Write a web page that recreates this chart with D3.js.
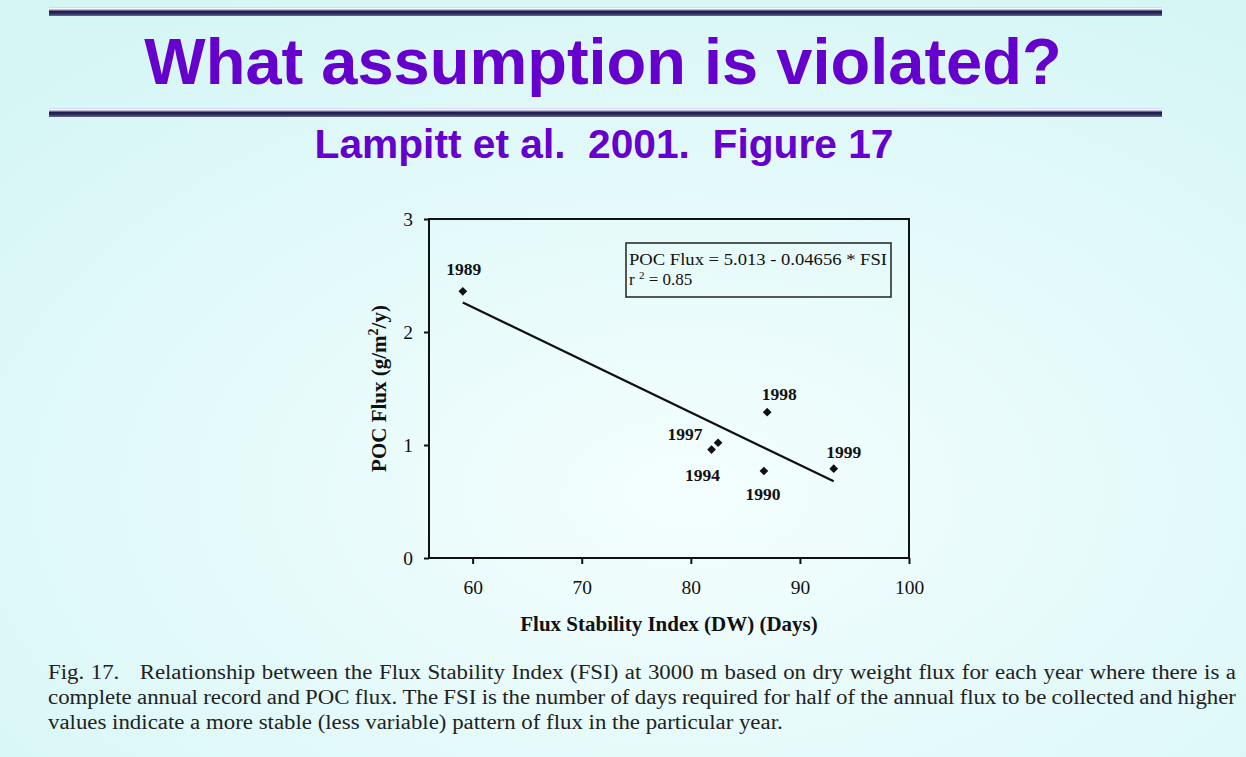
<!DOCTYPE html>
<html>
<head>
<meta charset="utf-8">
<script src="https://cdn.jsdelivr.net/npm/d3@7"></script>
<style>
  body { margin: 0; background: #dcf8f8; }
  svg { display: block; }
</style>
</head>
<body>
<svg id="slide" width="1246" height="757"></svg>
<script>
// data
const years = ["1989", "1990", "1994", "1997", "1998", "1999"];
const fsiValues = [59.1, 86.7, 81.9, 82.5, 87.0, 93.1];
const pocValues = [2.36, 0.77, 0.96, 1.02, 1.29, 0.79];
const xTicks = [60, 70, 80, 90, 100];
const yTicks = [0, 1, 2, 3];
const fitIntercept = 5.013;
const fitSlope = -0.04656;
const fitR2 = "0.85";

const titleText = "What assumption is violated?";
const subtitleText = "Lampitt et al.  2001.  Figure 17";
const captionLines = [
  "Fig. 17. Relationship between the Flux Stability Index (FSI) at 3000 m based on dry weight flux for each year where there is a",
  "complete annual record and POC flux. The FSI is the number of days required for half of the annual flux to be collected and higher",
  "values indicate a more stable (less variable) pattern of flux in the particular year."
];

// where each year label sits relative to its point (px)
const labelOffset = {
  "1989": [1, -16], "1990": [-1, 29], "1994": [-9, 31],
  "1997": [-33, -3], "1998": [12, -12], "1999": [10, -11]
};

const points = years.map((yr, i) => ({ year: yr, fsi: fsiValues[i], poc: pocValues[i] }));

const svg = d3.select("#slide");
const W = 1246, H = 757;
const serif = "'Liberation Serif', 'Times New Roman', serif";
const sans = "'Liberation Sans', Arial, sans-serif";
const purple = "#6600cc";

// background
const defs = svg.append("defs");
const bg = defs.append("radialGradient").attr("id", "bg")
  .attr("cx", "55%").attr("cy", "65%").attr("r", "75%");
bg.append("stop").attr("offset", "0%").attr("stop-color", "#f4fefe");
bg.append("stop").attr("offset", "100%").attr("stop-color", "#d6f6f6");
svg.append("rect").attr("width", W).attr("height", H).attr("fill", "url(#bg)");

const rule = defs.append("linearGradient").attr("id", "rule")
  .attr("x1", 0).attr("y1", 0).attr("x2", 0).attr("y2", 1);
[["0%", "#c8c8ee"], ["18%", "#ffffff"], ["32%", "#9a9ac8"], ["50%", "#1c1c52"],
 ["78%", "#34345f"], ["100%", "#6e6e90"]].forEach(([o, c]) =>
  rule.append("stop").attr("offset", o).attr("stop-color", c));

[7, 108].forEach(y0 => {
  svg.append("rect").attr("x", 49).attr("y", y0).attr("width", 1113).attr("height", 9)
    .attr("fill", "url(#rule)");
});

// title + subtitle
svg.append("text")
  .attr("x", 603).attr("y", 84)
  .attr("text-anchor", "middle")
  .attr("font-family", sans).attr("font-weight", "bold").attr("font-size", 65)
  .attr("fill", purple)
  .text(titleText);

svg.append("text")
  .attr("x", 604).attr("y", 158)
  .attr("text-anchor", "middle")
  .attr("font-family", sans).attr("font-weight", "bold").attr("font-size", 40.7)
  .attr("fill", purple)
  .style("white-space", "pre")
  .text(subtitleText);

// scatter plot
const plot = { left: 429, right: 909, top: 219, bottom: 558 };
const x = d3.scaleLinear().domain([56, 100]).range([plot.left, plot.right]);
const y = d3.scaleLinear().domain([0, 3]).range([plot.bottom, plot.top]);

const chart = svg.append("g");

chart.append("rect")
  .attr("x", plot.left).attr("y", plot.top)
  .attr("width", plot.right - plot.left).attr("height", plot.bottom - plot.top)
  .attr("fill", "none").attr("stroke", "#111").attr("stroke-width", 2);

chart.append("g")
  .attr("transform", `translate(${plot.left},0)`)
  .call(d3.axisLeft(y).tickValues(yTicks).tickSize(5).tickPadding(11).tickFormat(d3.format("d")))
  .call(g => g.select(".domain").remove())
  .call(g => g.selectAll("line").attr("stroke", "#111").attr("stroke-width", 2))
  .call(g => g.selectAll("text").attr("font-family", serif).attr("font-size", 19.5).attr("fill", "#111"));

chart.append("g")
  .attr("transform", `translate(0,${plot.bottom})`)
  .call(d3.axisBottom(x).tickValues(xTicks).tickSize(6).tickPadding(16).tickFormat(d3.format("d")))
  .call(g => g.select(".domain").remove())
  .call(g => g.selectAll("line").attr("stroke", "#111").attr("stroke-width", 2))
  .call(g => g.selectAll("text").attr("font-family", serif).attr("font-size", 19.5).attr("fill", "#111"));

// axis titles
chart.append("text")
  .attr("x", (plot.left + plot.right) / 2).attr("y", 631)
  .attr("text-anchor", "middle")
  .attr("font-family", serif).attr("font-weight", "bold").attr("font-size", 21)
  .attr("fill", "#111")
  .text("Flux Stability Index (DW) (Days)");

const yTitle = chart.append("text")
  .attr("transform", `translate(386,${(plot.top + plot.bottom) / 2}) rotate(-90)`)
  .attr("text-anchor", "middle")
  .attr("font-family", serif).attr("font-weight", "bold").attr("font-size", 21)
  .attr("fill", "#111");
yTitle.append("tspan").text("POC Flux (g/m");
yTitle.append("tspan").attr("dy", -8).attr("font-size", 14).text("2");
yTitle.append("tspan").attr("dy", 8).text("/y)");

// regression line over the observed FSI range
const [fsiMin, fsiMax] = d3.extent(fsiValues);
chart.append("path")
  .datum([fsiMin, fsiMax])
  .attr("d", d3.line().x(d => x(d)).y(d => y(fitIntercept + fitSlope * d)))
  .attr("fill", "none").attr("stroke", "#111").attr("stroke-width", 2.2);

chart.selectAll("path.pt")
  .data(points)
  .join("path")
  .attr("class", "pt")
  .attr("d", d3.symbol(d3.symbolSquare, 38))
  .attr("transform", d => `translate(${x(d.fsi)},${y(d.poc)}) rotate(45)`)
  .attr("fill", "#111");

chart.selectAll("text.yr")
  .data(points)
  .join("text")
  .attr("class", "yr")
  .attr("x", d => x(d.fsi) + labelOffset[d.year][0])
  .attr("y", d => y(d.poc) + labelOffset[d.year][1])
  .attr("text-anchor", "middle")
  .attr("font-family", serif).attr("font-weight", "bold").attr("font-size", 17.5)
  .attr("fill", "#111")
  .text(d => d.year);

// equation box
chart.append("rect")
  .attr("x", 626).attr("y", 243).attr("width", 265).attr("height", 54)
  .attr("fill", "none").attr("stroke", "#222").attr("stroke-width", 1.5);

chart.append("text")
  .attr("x", 629).attr("y", 265)
  .attr("font-family", serif).attr("font-size", 17).attr("fill", "#111")
  .attr("textLength", 258).attr("lengthAdjust", "spacingAndGlyphs")
  .text(`POC Flux = ${fitIntercept} - ${Math.abs(fitSlope)} * FSI`);

const r2 = chart.append("text")
  .attr("x", 629).attr("y", 285)
  .attr("font-family", serif).attr("font-size", 17).attr("fill", "#111");
r2.append("tspan").text("r ");
r2.append("tspan").attr("dy", -6).attr("font-size", 11).text("2");
r2.append("tspan").attr("dy", 6).text(` = ${fitR2}`);

// caption, slightly stretched like the scanned original; first two lines justified
const capX0 = 48, capX1 = 1236, capStretch = 1.143;
const capBase = [679, 704, 729];
const caption = svg.append("g")
  .attr("transform", `translate(${capX0},0) scale(${capStretch},1)`);
const capWidth = (capX1 - capX0) / capStretch;

captionLines.forEach((line, i) => {
  const t = caption.append("text")
    .attr("y", capBase[i])
    .attr("font-family", serif).attr("font-size", 20).attr("fill", "#222");
  if (i === captionLines.length - 1) {
    t.attr("x", 0).text(line);
    return;
  }
  const words = line.split(" ");
  const spans = words.map(w => t.append("tspan").text(w));
  const widths = spans.map(s => s.node().getComputedTextLength());
  const extra = i === 0 ? 12 : 0; // wider gap after "Fig. 17."
  const gap = (capWidth - d3.sum(widths) - extra) / (words.length - 1);
  let cx = 0;
  spans.forEach((s, k) => {
    s.attr("x", cx);
    cx += widths[k] + gap + (i === 0 && k === 1 ? extra : 0);
  });
});
</script>
</body>
</html>
